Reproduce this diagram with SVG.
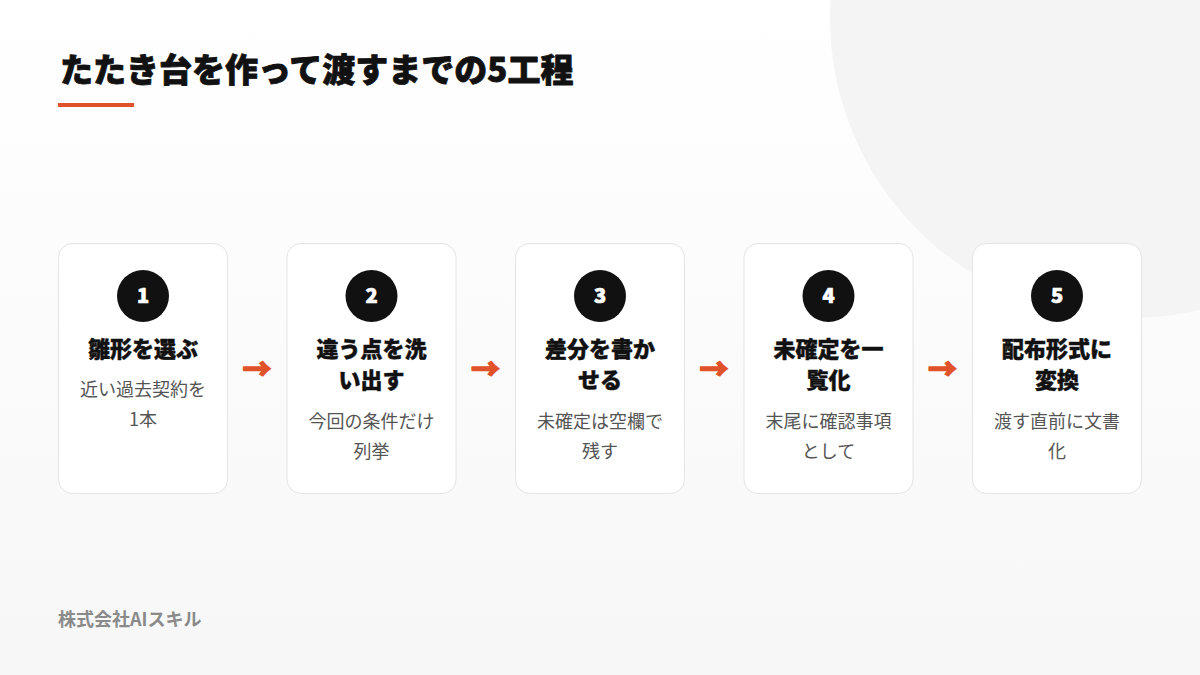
<svg xmlns="http://www.w3.org/2000/svg" width="1200" height="675" viewBox="0 0 1200 675">
  <defs>
    <linearGradient id="bg" x1="0" y1="0" x2="0" y2="1">
      <stop offset="0" stop-color="#ffffff"/>
      <stop offset="1" stop-color="#f7f7f7"/>
    </linearGradient>
    <style>
      .jp { font-family: "Noto Sans CJK JP", "Noto Sans", sans-serif; }
      .title { font-size: 33px; font-weight: 900; fill: #111111; stroke: #111111; stroke-width: 0.8px; stroke-linejoin: round; }
      .card { fill: #ffffff; stroke: #e4e4e4; stroke-width: 1; }
      .badge { fill: #111111; }
      .num { font-size: 20px; font-weight: 900; fill: #ffffff; stroke: #ffffff; stroke-width: 0.7px; stroke-linejoin: round; text-anchor: middle; }
      .head { font-size: 22px; font-weight: 900; fill: #111111; stroke: #111111; stroke-width: 0.45px; stroke-linejoin: round; text-anchor: middle; }
      .desc { font-size: 18px; font-weight: 400; fill: #555555; text-anchor: middle; }
      .arrow { font-size: 29px; font-weight: 900; fill: #e0522a; stroke: #e0522a; stroke-width: 1.4px; stroke-linejoin: round; text-anchor: middle; }
      .footer { font-size: 18px; font-weight: 700; fill: #8a8a8a; }
    </style>
  </defs>

  <rect x="0" y="0" width="1200" height="675" fill="url(#bg)"/>
  <circle cx="1130" cy="18" r="300" fill="#f4f4f4"/>

  <g id="title">
    <text class="jp title" x="60" y="82">たたき台を作って渡すまでの5工程</text>
    <rect x="58" y="103" width="76" height="4" fill="#e0522a"/>
  </g>

  <g id="step1">
    <rect class="card" x="58.5" y="243.5" width="169" height="250" rx="14"/>
    <circle class="badge" cx="143" cy="296" r="26"/>
    <text class="jp num" x="143" y="303">1</text>
    <text class="jp head" x="143" y="357">雛形を選ぶ</text>
    <text class="jp desc" x="143" y="396">近い過去契約を</text>
    <text class="jp desc" x="143" y="426">1本</text>
  </g>

  <g id="step2">
    <rect class="card" x="287" y="243.5" width="169" height="250" rx="14"/>
    <circle class="badge" cx="371.5" cy="296" r="26"/>
    <text class="jp num" x="371.5" y="303">2</text>
    <text class="jp head" x="371.5" y="357">違う点を洗</text>
    <text class="jp head" x="371.5" y="388">い出す</text>
    <text class="jp desc" x="371.5" y="428">今回の条件だけ</text>
    <text class="jp desc" x="371.5" y="458">列挙</text>
  </g>

  <g id="step3">
    <rect class="card" x="515.5" y="243.5" width="169" height="250" rx="14"/>
    <circle class="badge" cx="600" cy="296" r="26"/>
    <text class="jp num" x="600" y="303">3</text>
    <text class="jp head" x="600" y="357">差分を書か</text>
    <text class="jp head" x="600" y="388">せる</text>
    <text class="jp desc" x="600" y="428">未確定は空欄で</text>
    <text class="jp desc" x="600" y="458">残す</text>
  </g>

  <g id="step4">
    <rect class="card" x="744" y="243.5" width="169" height="250" rx="14"/>
    <circle class="badge" cx="828.5" cy="296" r="26"/>
    <text class="jp num" x="828.5" y="303">4</text>
    <text class="jp head" x="828.5" y="357">未確定を一</text>
    <text class="jp head" x="828.5" y="388">覧化</text>
    <text class="jp desc" x="828.5" y="428">末尾に確認事項</text>
    <text class="jp desc" x="828.5" y="458">として</text>
  </g>

  <g id="step5">
    <rect class="card" x="972.5" y="243.5" width="169" height="250" rx="14"/>
    <circle class="badge" cx="1057" cy="296" r="26"/>
    <text class="jp num" x="1057" y="303">5</text>
    <text class="jp head" x="1057" y="357">配布形式に</text>
    <text class="jp head" x="1057" y="388">変換</text>
    <text class="jp desc" x="1057" y="428">渡す直前に文書</text>
    <text class="jp desc" x="1057" y="458">化</text>
  </g>

  <g id="connectors">
    <text class="jp arrow" x="257" y="380">→</text>
    <text class="jp arrow" x="485.5" y="380">→</text>
    <text class="jp arrow" x="714" y="380">→</text>
    <text class="jp arrow" x="942.5" y="380">→</text>
  </g>

  <g id="footer">
    <text class="jp footer" x="58" y="626">株式会社AIスキル</text>
  </g>
</svg>
